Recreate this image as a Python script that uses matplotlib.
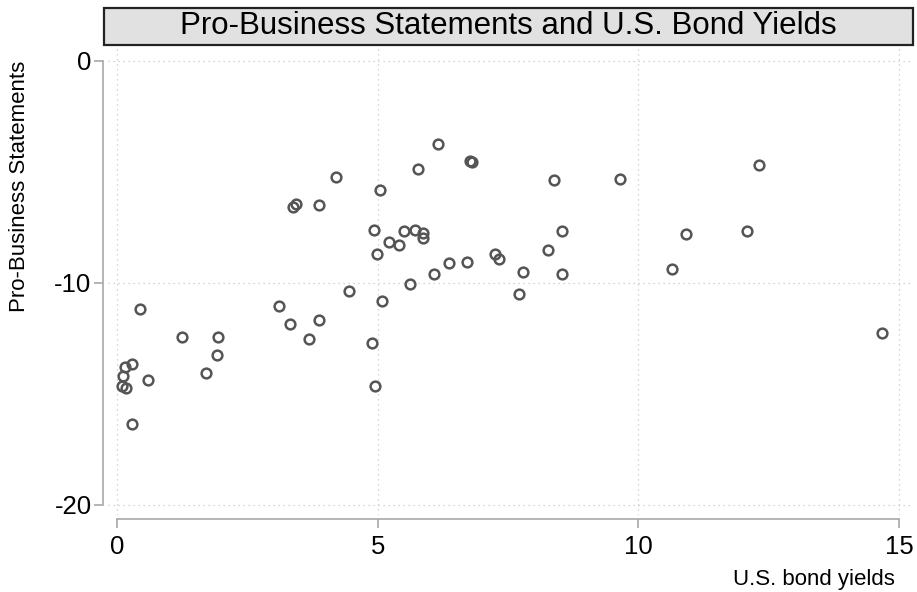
import matplotlib
matplotlib.use('Agg')
import matplotlib.pyplot as plt
from matplotlib.patches import Rectangle

plt.rcParams['font.family'] = ['Liberation Sans', 'DejaVu Sans']
plt.rcParams['axes.unicode_minus'] = False

# bond yields (x) against pro-business statement score (y)
bond_yields = [6.16, 6.76, 6.80, 5.76, 4.19, 5.04, 3.43, 3.37, 3.87, 4.93,
               5.50, 5.72, 5.87, 5.87, 5.21, 5.41, 4.99, 6.37, 6.71, 6.07,
               5.61, 4.45, 5.08, 0.44, 3.10, 3.31, 3.86, 3.68, 4.88, 1.24,
               1.94, 1.92, 1.70, 0.28, 0.15, 0.10, 0.59, 0.09, 0.16, 4.94,
               0.29, 8.38, 9.64, 8.54, 8.26, 7.24, 7.33, 7.79, 8.53, 7.70,
               10.65, 10.92, 12.08, 12.31, 14.67]
statements = [-3.75, -4.50, -4.56, -4.86, -5.24, -5.81, -6.43, -6.58, -6.50, -7.61,
              -7.67, -7.63, -7.76, -7.99, -8.17, -8.29, -8.71, -9.10, -9.08, -9.61,
              -10.05, -10.35, -10.84, -11.17, -11.04, -11.85, -11.67, -12.55, -12.70, -12.43,
              -12.43, -13.24, -14.08, -13.66, -13.80, -14.22, -14.38, -14.67, -14.74, -14.64,
              -16.35, -5.36, -5.33, -7.66, -8.50, -8.69, -8.93, -9.52, -9.59, -10.51,
              -9.40, -7.82, -7.67, -4.71, -12.27]

x_ticks = [0, 5, 10, 15]
y_ticks = [-20, -10, 0]

title = 'Pro-Business Statements and U.S. Bond Yields'

fig = plt.figure(figsize=(9.17, 5.92), dpi=100)
ax = fig.add_axes([108 / 917, 77 / 592, 802 / 917, 468 / 592])

ax.plot(bond_yields, statements, linestyle='none', marker='o', markersize=7,
        markerfacecolor='none', markeredgecolor='#555555', markeredgewidth=1.8,
        zorder=3)

ax.set_xlim(-0.18, 15.21)
ax.set_ylim(-20.47, 0.63)
ax.set_xticks(x_ticks)
ax.set_yticks(y_ticks)
ax.grid(True, linestyle=(0, (1, 3)), color='#c8c8c8', linewidth=0.9)
ax.set_axisbelow(True)

for side in ['top', 'right']:
    ax.spines[side].set_visible(False)
ax.spines['left'].set_position(('outward', 3.3))
ax.spines['bottom'].set_position(('outward', 2.9))
ax.spines['left'].set_bounds(-20, 0)
ax.spines['bottom'].set_bounds(0, 15)
for side in ['left', 'bottom']:
    ax.spines[side].set_color('#a8a8a8')
    ax.spines[side].set_linewidth(1.2)

ax.tick_params(axis='both', length=6.5, width=1.2, color='#a8a8a8',
               labelsize=18.5, labelcolor='black')
ax.tick_params(axis='x', pad=5)
ax.tick_params(axis='y', pad=2)

fig.text(895 / 917, 1 - 579 / 592, 'U.S. bond yields', ha='right', va='center',
         fontsize=16)
fig.text(20 / 917, 1 - 186 / 592, 'Pro-Business Statements', ha='center',
         va='center', rotation=90, fontsize=16)

# title box
fig.patches.append(Rectangle((104 / 917, 1 - 45 / 592), 809 / 917, 37 / 592,
                             transform=fig.transFigure, facecolor='#e1e1e1',
                             edgecolor='#222222', linewidth=1.6))
fig.text(508.5 / 917, 1 - 26.5 / 592, title, ha='center', va='center',
         fontsize=22.5)

fig.savefig('out.png', dpi=100)
